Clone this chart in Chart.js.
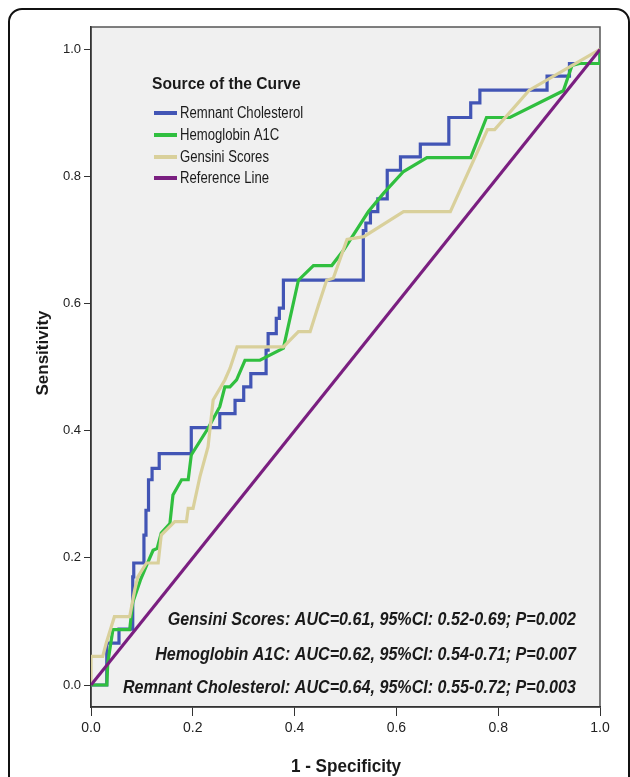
<!DOCTYPE html>
<html>
<head>
<meta charset="utf-8">
<script src="https://cdn.jsdelivr.net/npm/chart.js@4/dist/chart.umd.min.js"></script>
<style>
  html, body { margin: 0; padding: 0; background: #fff; overflow: hidden; }
  #frame {
    position: absolute; left: 8px; top: 8px; width: 622px; height: 830px;
    border: 2px solid #111; border-radius: 14px; box-sizing: border-box;
  }
  #roc { position: absolute; left: 0; top: 0; }
</style>
</head>
<body>
<div id="frame"></div>
<canvas id="roc" width="630" height="777"></canvas>
<script>
// =====================================================================
// ROC curves — Remnant Cholesterol / Hemoglobin A1C / Gensini Scores
// =====================================================================

const COLORS = {
  remnant: "#4255b5",
  hba1c: "#30bf3f",
  gensini: "#d9d09b",
  reference: "#7a1f80",
  plotBg: "#f0f0f0",
  axis: "#333333",
  text: "#1a1a1a",
};

const FONT = '"Liberation Sans", Arial, sans-serif';

// --------------------------------------------------------------- data
const seriesNames = ["Remnant Cholesterol", "Hemoglobin A1C", "Gensini Scores", "Reference Line"];

const remnantX = [0, 0.031, 0.031, 0.055, 0.055, 0.082, 0.082, 0.084, 0.084, 0.104, 0.104, 0.108, 0.108,
  0.113, 0.113, 0.12, 0.12, 0.134, 0.134, 0.197, 0.197, 0.253, 0.253, 0.283, 0.283, 0.30, 0.30, 0.314,
  0.314, 0.344, 0.344, 0.348, 0.348, 0.364, 0.364, 0.370, 0.370, 0.378, 0.378, 0.535, 0.535, 0.54, 0.54,
  0.549, 0.549, 0.5635, 0.5635, 0.582, 0.582, 0.608, 0.608, 0.647, 0.647, 0.703, 0.703, 0.746, 0.746,
  0.764, 0.764, 0.896, 0.896, 0.94, 0.94, 1, 1];
const remnantY = [0, 0, 0.066, 0.066, 0.088, 0.088, 0.17, 0.17, 0.192, 0.192, 0.236, 0.236, 0.275,
  0.275, 0.323, 0.323, 0.341, 0.341, 0.364, 0.364, 0.405, 0.405, 0.427, 0.427, 0.448, 0.448, 0.469, 0.469,
  0.49, 0.49, 0.527, 0.527, 0.553, 0.553, 0.577, 0.577, 0.593, 0.593, 0.637, 0.637, 0.715, 0.715, 0.727,
  0.727, 0.745, 0.745, 0.765, 0.765, 0.81, 0.81, 0.831, 0.831, 0.851, 0.851, 0.893, 0.893, 0.916,
  0.916, 0.936, 0.936, 0.958, 0.958, 0.978, 0.978, 1];

const hba1cX = [0, 0.031, 0.033, 0.043, 0.076, 0.082, 0.097, 0.11, 0.122, 0.13, 0.138, 0.155, 0.161,
  0.178, 0.191, 0.197, 0.23, 0.253, 0.263, 0.273, 0.286, 0.3025, 0.332, 0.378, 0.4075, 0.437, 0.473,
  0.496, 0.545, 0.575, 0.614, 0.66, 0.746, 0.777, 0.823, 0.928, 0.945, 0.96, 1, 1];
const hba1cY = [0, 0, 0.035, 0.087, 0.087, 0.13, 0.165, 0.19, 0.212, 0.215, 0.239, 0.254, 0.299,
  0.323, 0.323, 0.362, 0.404, 0.438, 0.469, 0.469, 0.48, 0.511, 0.511, 0.53, 0.637, 0.66, 0.66,
  0.684, 0.745, 0.774, 0.808, 0.83, 0.83, 0.893, 0.893, 0.935, 0.975, 0.978, 0.978, 1];

const gensiniX = [0, 0, 0.023, 0.03, 0.046, 0.076, 0.086, 0.092, 0.109, 0.132, 0.138, 0.1645, 0.1875,
  0.191, 0.2005, 0.214, 0.23, 0.24, 0.263, 0.273, 0.287, 0.378, 0.4075, 0.4305, 0.447, 0.463, 0.476,
  0.503, 0.536, 0.614, 0.706, 0.779, 0.793, 0.861, 1];
const gensiniY = [0, 0.045, 0.045, 0.066, 0.1075, 0.1075, 0.15, 0.17, 0.192, 0.192, 0.236, 0.257, 0.257,
  0.278, 0.278, 0.328, 0.375, 0.4485, 0.48, 0.498, 0.532, 0.532, 0.556, 0.556, 0.598, 0.637, 0.64,
  0.701, 0.7055, 0.745, 0.745, 0.874, 0.874, 0.936, 1];

const refX = [0, 1];
const refY = [0, 1];

const axisTicks = [0, 0.2, 0.4, 0.6, 0.8, 1.0];

const aucNotes = [
  "Gensini Scores: AUC=0.61, 95%CI: 0.52-0.69; P=0.002",
  "Hemoglobin A1C: AUC=0.62, 95%CI: 0.54-0.71; P=0.007",
  "Remnant Cholesterol: AUC=0.64, 95%CI: 0.55-0.72; P=0.003",
];

// --------------------------------------------------------------- helpers
function pontos(xs, ys) {
  return xs.map((x, i) => ({ x, y: ys[i] }));
}
function serie(label, xs, ys, color, order) {
  return {
    label, data: pontos(xs, ys), borderColor: color, backgroundColor: color,
    borderWidth: 3.2, pointRadius: 0, tension: 0, order,
  };
}
function fixedTicks(scale) {
  scale.ticks = axisTicks.map((v) => ({ value: v }));
}
// no narrow font installed: squeeze the text horizontally instead
function squeezedText(ctx, text, x, y, sx) {
  ctx.save();
  ctx.translate(x, y);
  ctx.scale(sx, 1);
  ctx.fillText(text, 0, 0);
  ctx.restore();
}

// plot box, legend, titles and AUC notes
const decorPlugin = {
  id: "decor",
  beforeDraw(chart) {
    const { ctx, chartArea: a } = chart;
    ctx.save();
    ctx.fillStyle = COLORS.plotBg;
    ctx.fillRect(a.left, a.top, a.right - a.left, a.bottom - a.top);
    ctx.strokeStyle = "#555";
    ctx.lineWidth = 1.5;
    ctx.strokeRect(a.left, a.top, a.right - a.left, a.bottom - a.top);
    ctx.restore();
  },
  afterDraw(chart) {
    const { ctx } = chart;
    ctx.save();
    ctx.fillStyle = COLORS.text;

    // legend
    ctx.textAlign = "left";
    ctx.textBaseline = "alphabetic";
    ctx.font = `bold 17px ${FONT}`;
    squeezedText(ctx, "Source of the Curve", 152, 89, 0.92);
    const legendColors = [COLORS.remnant, COLORS.hba1c, COLORS.gensini, COLORS.reference];
    const legendY = [113, 135, 157, 178];
    ctx.font = `16px ${FONT}`;
    ctx.textBaseline = "middle";
    seriesNames.forEach((name, i) => {
      ctx.strokeStyle = legendColors[i];
      ctx.lineWidth = 4;
      ctx.beginPath();
      ctx.moveTo(154, legendY[i]);
      ctx.lineTo(177, legendY[i]);
      ctx.stroke();
      squeezedText(ctx, name, 180, legendY[i] + 1, 0.82);
    });

    // AUC notes
    ctx.font = `italic bold 18px ${FONT}`;
    ctx.textAlign = "right";
    ctx.textBaseline = "alphabetic";
    const noteY = [625, 660, 693];
    aucNotes.forEach((t, i) => squeezedText(ctx, t, 576, noteY[i], 0.895));

    // axis titles
    ctx.font = `bold 18px ${FONT}`;
    ctx.textAlign = "center";
    ctx.textBaseline = "middle";
    squeezedText(ctx, "1 - Specificity", 346, 767, 0.95);
    ctx.translate(43, 353);
    ctx.rotate(-Math.PI / 2);
    ctx.font = `bold 17px ${FONT}`;
    ctx.fillText("Sensitivity", 0, 0);
    ctx.restore();
  },
};

// --------------------------------------------------------------- chart
new Chart(document.getElementById("roc"), {
  type: "line",
  data: {
    datasets: [
      serie(seriesNames[0], remnantX, remnantY, COLORS.remnant, 4),
      serie(seriesNames[1], hba1cX, hba1cY, COLORS.hba1c, 3),
      serie(seriesNames[2], gensiniX, gensiniY, COLORS.gensini, 2),
      serie(seriesNames[3], refX, refY, COLORS.reference, 1),
    ],
  },
  options: {
    responsive: false,
    animation: false,
    layout: { padding: { top: 27, right: 30, left: 0, bottom: 0 } },
    plugins: { legend: { display: false }, tooltip: { enabled: false } },
    scales: {
      x: {
        type: "linear", min: 0, max: 1,
        afterBuildTicks: fixedTicks,
        afterFit: (s) => { s.height = 70; },
        grid: { drawOnChartArea: false, tickLength: 9, color: COLORS.axis },
        border: { color: COLORS.axis, width: 1.5 },
        ticks: {
          padding: 4, color: "#222", font: { family: FONT, size: 14 },
          callback: (v) => Number(v).toFixed(1), maxRotation: 0,
        },
      },
      y: {
        type: "linear", min: -0.0346, max: 1.0354,
        afterBuildTicks: fixedTicks,
        afterFit: (s) => { s.width = 91; },
        grid: { drawOnChartArea: false, tickLength: 7, color: COLORS.axis },
        border: { color: COLORS.axis, width: 1.5 },
        ticks: {
          padding: 3, color: "#222", font: { family: FONT, size: 13 },
          callback: (v) => Number(v).toFixed(1),
        },
      },
    },
  },
  plugins: [decorPlugin],
});
</script>
</body>
</html>
